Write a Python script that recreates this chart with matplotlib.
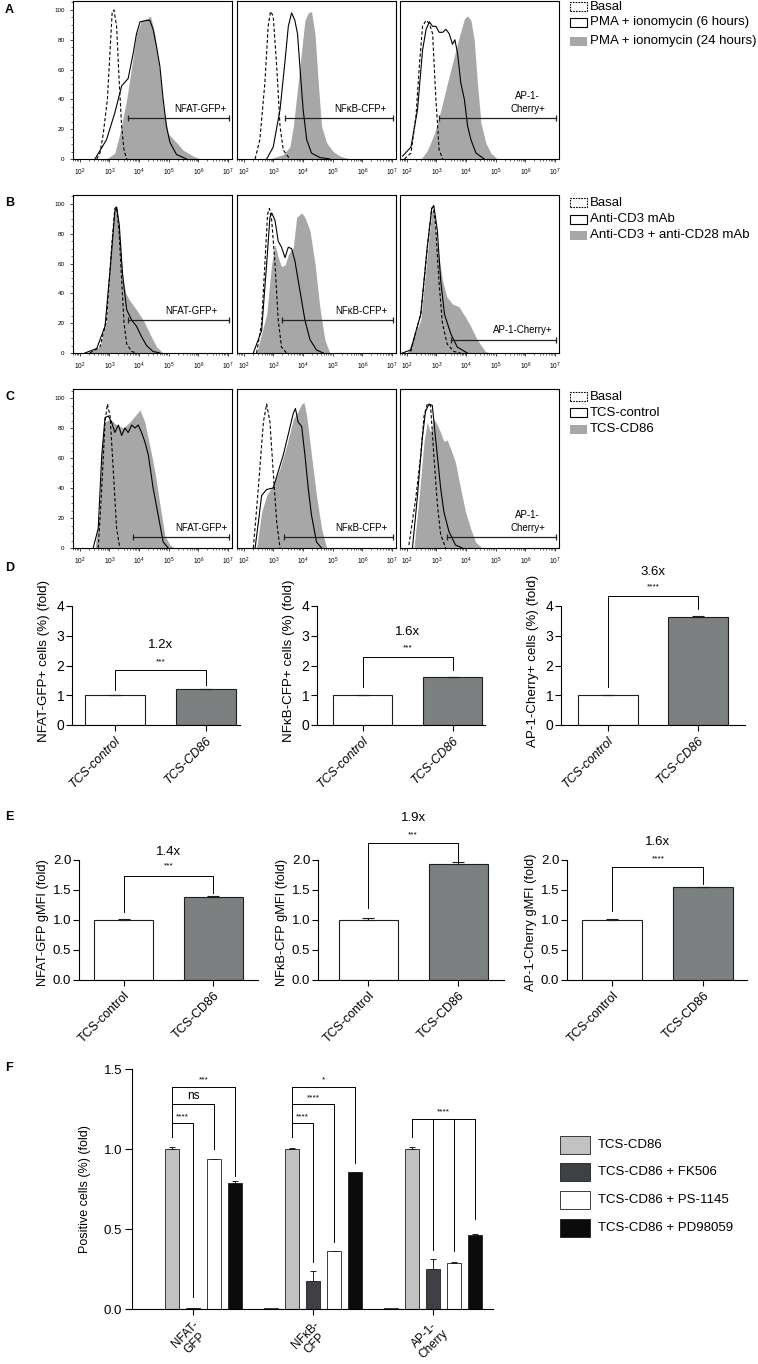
import numpy as np
import matplotlib
matplotlib.use("Agg")
import matplotlib.pyplot as plt
from matplotlib import font_manager
from matplotlib.patches import Rectangle
from matplotlib.ticker import LogLocator, NullFormatter, MultipleLocator, FormatStrFormatter

fonts = {f.name for f in font_manager.fontManager.ttflist}
SANS = "Liberation Sans" if "Liberation Sans" in fonts else "DejaVu Sans"
NARROW = "Liberation Sans Narrow" if "Liberation Sans Narrow" in fonts else SANS
plt.rcParams["font.family"] = [SANS, "DejaVu Sans"]

# ---------------- flow histograms: (log10 intensity, % of max) ----------------
A1_basal = [(2.57, 0), (2.68, 4), (2.79, 17), (2.93, 40), (3.02, 73), (3.09, 98), (3.15, 100), (3.24, 89), (3.33, 51), (3.41, 22), (3.49, 6), (3.58, 0)]
A1_open = [(2.51, 0), (2.90, 13), (3.18, 31), (3.41, 49), (3.63, 54), (3.80, 71), (3.91, 84), (4.03, 92), (4.25, 93), (4.36, 93), (4.47, 87), (4.59, 75), (4.70, 62), (4.81, 40), (4.92, 22), (5.04, 11), (5.26, 3), (5.60, 0)]
A1_grey = [(2.90, 0), (3.18, 4), (3.35, 17), (3.58, 40), (3.75, 62), (3.91, 84), (4.08, 93), (4.25, 94), (4.38, 96), (4.53, 84), (4.70, 57), (4.81, 35), (4.98, 17), (5.26, 11), (5.48, 6), (5.82, 2), (6.05, 0)]
A2_basal = [(2.38, 0), (2.54, 13), (2.71, 51), (2.82, 89), (2.90, 99), (2.99, 96), (3.11, 62), (3.22, 22), (3.33, 6), (3.55, 0)]
A2_open = [(2.77, 0), (2.99, 8), (3.22, 33), (3.39, 66), (3.50, 89), (3.61, 98), (3.72, 93), (3.81, 84), (3.89, 62), (4.00, 33), (4.12, 13), (4.28, 4), (4.56, 1), (4.90, 0)]
A2_grey = [(2.88, 0), (3.33, 3), (3.55, 8), (3.67, 22), (3.83, 51), (3.95, 73), (4.06, 93), (4.17, 98), (4.28, 99), (4.40, 84), (4.51, 51), (4.62, 22), (4.79, 11), (5.01, 5), (5.24, 2), (5.57, 0)]
A3_basal = [(1.92, 0), (2.14, 4), (2.31, 29), (2.42, 62), (2.53, 89), (2.65, 93), (2.76, 91), (2.87, 84), (2.98, 40), (3.09, 6), (3.21, 0)]
A3_open = [(1.86, 2), (2.14, 8), (2.36, 33), (2.53, 73), (2.65, 87), (2.76, 92), (2.87, 89), (2.98, 89), (3.09, 85), (3.21, 85), (3.32, 87), (3.43, 84), (3.54, 77), (3.62, 80), (3.71, 71), (3.82, 51), (3.94, 40), (4.05, 22), (4.16, 13), (4.33, 4), (4.61, 0)]
A3_grey = [(2.48, 0), (2.70, 6), (2.93, 17), (3.15, 33), (3.37, 51), (3.60, 69), (3.77, 82), (3.94, 94), (4.05, 96), (4.16, 93), (4.27, 80), (4.38, 51), (4.50, 24), (4.66, 11), (4.83, 4), (5.06, 0)]

B1_basal = [(2.34, 0), (2.68, 4), (2.90, 22), (3.07, 71), (3.18, 97), (3.24, 98), (3.32, 82), (3.41, 49), (3.49, 20), (3.58, 6), (3.75, 1), (3.91, 0)]
B1_open = [(2.17, 0), (2.57, 3), (2.85, 18), (3.04, 60), (3.18, 95), (3.24, 98), (3.33, 86), (3.44, 53), (3.58, 29), (3.75, 22), (3.91, 18), (4.08, 11), (4.25, 5), (4.47, 1), (4.70, 0)]
B1_grey = [(2.23, 0), (2.68, 4), (2.90, 22), (3.07, 71), (3.18, 97), (3.24, 98), (3.35, 75), (3.46, 49), (3.55, 40), (3.69, 35), (3.91, 29), (4.14, 22), (4.36, 13), (4.59, 4), (4.81, 0)]
B2_basal = [(2.43, 0), (2.60, 20), (2.71, 60), (2.80, 93), (2.86, 97), (2.94, 89), (3.05, 60), (3.16, 22), (3.27, 4), (3.44, 0)]
B2_open = [(2.32, 0), (2.60, 15), (2.77, 60), (2.88, 91), (2.94, 94), (3.05, 89), (3.16, 75), (3.27, 71), (3.39, 64), (3.50, 71), (3.61, 70), (3.72, 62), (3.89, 42), (4.06, 22), (4.23, 9), (4.45, 2), (4.68, 0)]
B2_grey = [(2.43, 0), (2.77, 26), (2.94, 60), (3.05, 73), (3.16, 64), (3.27, 58), (3.39, 59), (3.50, 66), (3.67, 71), (3.78, 91), (3.95, 94), (4.06, 91), (4.23, 82), (4.40, 60), (4.56, 31), (4.73, 9), (4.90, 0)]
B3_basal = [(2.13, 1), (2.47, 26), (2.69, 71), (2.84, 97), (2.89, 98), (2.97, 86), (3.08, 49), (3.20, 20), (3.36, 6), (3.59, 1), (3.81, 0)]
B3_open = [(1.85, 0), (2.13, 2), (2.47, 26), (2.69, 71), (2.84, 97), (2.91, 99), (3.03, 82), (3.14, 49), (3.27, 26), (3.48, 13), (3.70, 4), (4.04, 0)]
B3_grey = [(2.02, 0), (2.47, 22), (2.69, 66), (2.84, 95), (2.89, 96), (3.03, 71), (3.20, 49), (3.34, 38), (3.53, 33), (3.76, 31), (3.98, 24), (4.15, 18), (4.37, 9), (4.65, 1), (4.82, 0)]

C1_basal = [(2.62, 0), (2.74, 40), (2.85, 84), (2.93, 96), (3.02, 88), (3.13, 51), (3.24, 13), (3.35, 0)]
C1_open = [(2.45, 0), (2.62, 13), (2.74, 62), (2.85, 87), (2.96, 88), (3.07, 84), (3.18, 77), (3.30, 82), (3.41, 75), (3.52, 80), (3.63, 77), (3.75, 82), (3.86, 80), (3.97, 82), (4.08, 77), (4.19, 71), (4.31, 62), (4.47, 40), (4.64, 22), (4.81, 4), (4.98, 0)]
C1_grey = [(2.51, 0), (2.66, 22), (2.74, 66), (2.85, 84), (3.02, 86), (3.24, 82), (3.46, 80), (3.69, 84), (3.86, 88), (4.03, 92), (4.19, 84), (4.36, 68), (4.53, 51), (4.70, 29), (4.87, 8), (5.04, 2), (5.20, 0)]
C2_basal = [(2.32, 0), (2.49, 40), (2.66, 84), (2.77, 96), (2.88, 84), (2.99, 51), (3.11, 17), (3.22, 0)]
C2_open = [(2.38, 0), (2.49, 17), (2.60, 35), (2.77, 39), (2.99, 40), (3.16, 51), (3.33, 62), (3.44, 71), (3.55, 80), (3.67, 90), (3.74, 93), (3.83, 84), (3.95, 81), (4.06, 62), (4.17, 40), (4.28, 22), (4.45, 4), (4.62, 0)]
C2_grey = [(2.43, 0), (2.60, 24), (2.77, 35), (2.99, 42), (3.22, 53), (3.44, 68), (3.67, 86), (3.83, 91), (3.95, 96), (4.03, 97), (4.12, 88), (4.28, 62), (4.45, 35), (4.62, 13), (4.79, 0)]
C3_basal = [(2.07, 2), (2.30, 33), (2.47, 62), (2.58, 88), (2.69, 96), (2.80, 95), (2.91, 62), (3.03, 29), (3.14, 9), (3.31, 0)]
C3_open = [(2.19, 0), (2.35, 33), (2.52, 73), (2.63, 91), (2.75, 96), (2.86, 95), (2.97, 73), (3.14, 40), (3.25, 24), (3.42, 11), (3.64, 2), (3.87, 0)]
C3_grey = [(2.24, 0), (2.41, 33), (2.58, 71), (2.69, 84), (2.80, 77), (2.91, 86), (3.03, 82), (3.14, 77), (3.25, 71), (3.36, 72), (3.48, 66), (3.64, 57), (3.81, 40), (3.98, 24), (4.15, 13), (4.32, 4), (4.54, 0)]

# gates (log10 start, height) and their labels
A_gate_start = [3.62, 3.39, 3.08]
A_gate_y = [27.5, 27.5, 27.5]
B_gate_start = [3.62, 3.29, 3.49]
B_gate_y = [22, 22, 9]
C_gate_start = [3.79, 3.35, 3.35]
C_gate_y = [7.3, 7.3, 7.3]
gate_end = 7.03
A_gate_labels = ["NFAT-GFP+", "NFκB-CFP+", "AP-1-\nCherry+"]
B_gate_labels = ["NFAT-GFP+", "NFκB-CFP+", "AP-1-Cherry+"]
C_gate_labels = ["NFAT-GFP+", "NFκB-CFP+", "AP-1-\nCherry+"]
A_label_x = [6.95, 6.80, 6.08]
B_label_x = [6.65, 6.85, 6.92]
C_label_x = [6.98, 6.85, 6.08]
A_label_y = [30.5, 30.5, 30.5]
B_label_y = [25, 25, 12]
C_label_y = [10, 10, 10]

A_legend = ["Basal", "PMA + ionomycin (6 hours)", "PMA + ionomycin (24 hours)"]
B_legend = ["Basal", "Anti-CD3 mAb", "Anti-CD3 + anti-CD28 mAb"]
C_legend = ["Basal", "TCS-control", "TCS-CD86"]

# ---------------- bar charts D / E ----------------
groups = ["TCS-control", "TCS-CD86"]
D_labels = ["NFAT-GFP+ cells (%) (fold)", "NFκB-CFP+ cells (%) (fold)", "AP-1-Cherry+ cells (%) (fold)"]
D_values = [[1.0, 1.2], [1.0, 1.62], [1.0, 3.63]]
D_errors = [[0.005, 0.01], [0.02, 0.01], [0.005, 0.03]]
D_fold = ["1.2x", "1.6x", "3.6x"]
D_stars = ["***", "***", "****"]
D_bracket = [(1.85, 1.17, 1.34), (2.28, 1.28, 1.85), (4.33, 1.28, 3.90)]
D_text_y = [(2.12, 2.69), (2.59, 3.13), (4.64, 5.14)]

E_labels = ["NFAT-GFP gMFI (fold)", "NFκB-CFP gMFI (fold)", "AP-1-Cherry gMFI (fold)"]
E_values = [[1.0, 1.39], [1.0, 1.94], [1.0, 1.55]]
E_errors = [[0.02, 0.01], [0.03, 0.02], [0.01, 0.005]]
E_fold = ["1.4x", "1.9x", "1.6x"]
E_stars = ["***", "***", "****"]
E_bracket = [(1.73, 1.13, 1.45), (2.28, 1.20, 1.98), (1.88, 1.15, 1.60)]
E_text_y = [(1.90, 2.13), (2.42, 2.70), (2.02, 2.30)]

# ---------------- panel F ----------------
F_groups = ["NFAT-\nGFP", "NFκB-\nCFP", "AP-1-\nCherry"]
F_series = ["Basal", "TCS-CD86", "TCS-CD86 + FK506", "TCS-CD86 + PS-1145", "TCS-CD86 + PD98059"]
F_basal = [0.003, 0.006, 0.004]
F_cd86 = [1.0, 1.0, 1.0]
F_fk506 = [0.005, 0.175, 0.25]
F_ps1145 = [0.935, 0.36, 0.29]
F_pd98059 = [0.785, 0.855, 0.465]
F_cd86_err = [0.01, 0.005, 0.01]
F_fk506_err = [0.003, 0.06, 0.06]
F_ps1145_err = [0.003, 0.003, 0.004]
F_pd98059_err = [0.012, 0.004, 0.003]
# (group, bar a, bar b, bracket top, end of leg b, label)
F_pairs = [(0, 1, 4, 1.39, 0.83, "***"), (0, 1, 3, 1.28, 1.00, "ns"), (0, 1, 2, 1.16, 0.075, "****"),
           (1, 1, 4, 1.39, 0.91, "*"), (1, 1, 3, 1.28, 0.42, "****"), (1, 1, 2, 1.16, 0.295, "****")]
F_leg_a = 1.075
F_multi_top = 1.19
F_multi_ends = [1.075, 0.37, 0.36, 0.56]

# ---------------- styling ----------------
W, H = 758, 1364
HIST_GREY = "#a7a7a7"
BAR_GREY = "#7d8080"
F_COLORS = ["white", "#c2c2c2", "#3e4045", "white", "#0b0b0b"]
EDGE = "#1e1e1e"

fig = plt.figure(figsize=(W / 100, H / 100), dpi=100)


def px_axes(left, top, right, bottom):
    return fig.add_axes([left / W, 1 - bottom / H, (right - left) / W, (bottom - top) / H])


def curve(points):
    arr = np.array(points, dtype=float)
    return 10 ** arr[:, 0], arr[:, 1]


def draw_hist(ax, basal, open_, grey, g0, gy, lab, lx, ly, first):
    x, y = curve(grey)
    ax.fill_between(x, y, color=HIST_GREY, lw=0, zorder=1)
    x, y = curve(open_)
    ax.plot(x, y, color="k", lw=0.8, zorder=3)
    x, y = curve(basal)
    ax.plot(x, y, color="k", lw=0.8, ls=(0, (3, 2)), zorder=3)
    ax.plot([10 ** g0, 10 ** gate_end], [gy, gy], color="#222222", lw=0.9,
            marker="|", ms=4.5, mew=0.9, zorder=4)
    ha = "center" if "\n" in lab else "right"
    ax.text(10 ** lx, ly, lab, fontsize=7, ha=ha, va="bottom", linespacing=1.35, zorder=5)
    ax.set_xscale("log")
    ax.set_xlim(10 ** 1.77, 10 ** 7.13)
    ax.set_ylim(0, 106)
    ax.xaxis.set_major_locator(LogLocator(base=10, numticks=12))
    ax.xaxis.set_minor_locator(LogLocator(base=10, subs=np.arange(2, 10), numticks=12))
    ax.xaxis.set_minor_formatter(NullFormatter())
    ax.tick_params(axis="x", which="major", direction="out", length=2.5, width=0.5, labelsize=4.8, pad=3)
    ax.tick_params(axis="x", which="minor", direction="out", length=1.3, width=0.4)
    if first:
        ax.yaxis.set_major_locator(MultipleLocator(20))
        ax.yaxis.set_minor_locator(MultipleLocator(5))
        ax.tick_params(axis="y", which="major", direction="out", length=2.5, width=0.5, labelsize=4.5, pad=3.5)
        ax.tick_params(axis="y", which="minor", direction="out", length=1.3, width=0.4)
    else:
        ax.tick_params(axis="y", which="both", left=False, labelleft=False)
    for s in ax.spines.values():
        s.set_linewidth(0.8)


def legend_block(x, ys, labels, kinds, w, h, fs, gap=3):
    for y, lab, kind in zip(ys, labels, kinds):
        if kind == "basal":
            kw = dict(facecolor="white", edgecolor="k", linestyle=(0, (1.5, 1)), linewidth=0.8)
        elif kind == "open":
            kw = dict(facecolor="white", edgecolor="k", linewidth=0.8)
        elif kind == "grey":
            kw = dict(facecolor=HIST_GREY, edgecolor="none")
        else:
            kw = dict(facecolor=kind, edgecolor=EDGE, linewidth=0.6)
        fig.add_artist(Rectangle((x / W, 1 - (y + h / 2) / H), w / W, h / H,
                                 transform=fig.transFigure, **kw))
        fig.text((x + w + gap) / W, 1 - y / H, lab, fontsize=fs, va="center", ha="left")


cols = [(73, 232), (237, 396), (400, 559)]
rows = [
    ((1, 159), [A1_basal, A2_basal, A3_basal], [A1_open, A2_open, A3_open], [A1_grey, A2_grey, A3_grey],
     A_gate_start, A_gate_y, A_gate_labels, A_label_x, A_label_y, A_legend, [6.5, 22.5, 41]),
    ((195, 353), [B1_basal, B2_basal, B3_basal], [B1_open, B2_open, B3_open], [B1_grey, B2_grey, B3_grey],
     B_gate_start, B_gate_y, B_gate_labels, B_label_x, B_label_y, B_legend, [202.5, 219, 235]),
    ((389, 548), [C1_basal, C2_basal, C3_basal], [C1_open, C2_open, C3_open], [C1_grey, C2_grey, C3_grey],
     C_gate_start, C_gate_y, C_gate_labels, C_label_x, C_label_y, C_legend, [396.5, 412.5, 429]),
]
for (top, bottom), bas, opn, gry, gs, gyy, glab, lxs, lys, leg, legy in rows:
    for i, (l, r) in enumerate(cols):
        ax = px_axes(l, top, r, bottom)
        draw_hist(ax, bas[i], opn[i], gry[i], gs[i], gyy[i], glab[i], lxs[i], lys[i], i == 0)
    legend_block(570, legy, leg, ["basal", "open", "grey"], 17, 9, 9.5)


def draw_bars(ax, vals, errs, ymax, step, fmt, ylabel, xlim, width_px, lab_off, lab_frac,
              bracket, text_y, fold, stars, italic, tick_font, tick_fs, ylab_fs):
    x = np.arange(len(vals))
    ax.bar(x, vals, width=0.66, color=["white", BAR_GREY], edgecolor=EDGE, linewidth=0.8, zorder=2)
    ax.errorbar(x, vals, yerr=[np.zeros(len(vals)), errs], fmt="none", ecolor=EDGE,
                elinewidth=0.8, capsize=4, capthick=0.8, zorder=3)
    ax.set_xlim(*xlim)
    ax.set_ylim(0, ymax)
    ax.set_yticks(np.arange(0, ymax + 1e-9, step))
    ax.yaxis.set_major_formatter(FormatStrFormatter(fmt))
    for t in ax.get_yticklabels():
        t.set_family(tick_font)
    ax.tick_params(axis="y", direction="out", length=4, width=0.8, labelsize=tick_fs, pad=1.5)
    ax.set_xticks(x)
    ax.set_xticklabels(groups, rotation=45, ha="right", rotation_mode="anchor", fontsize=9,
                       style="italic" if italic else "normal")
    ax.tick_params(axis="x", direction="out", length=4, width=0.8, pad=3)
    for s in ["top", "right"]:
        ax.spines[s].set_visible(False)
    ax.spines["left"].set_linewidth(0.8)
    ax.spines["bottom"].set_linewidth(0.8)
    ax.set_ylabel(ylabel, fontsize=ylab_fs, va="center")
    ax.yaxis.set_label_coords(-lab_off / width_px, lab_frac)
    btop, lend, rend = bracket
    ax.plot([0, 0, 1, 1], [lend, btop, btop, rend], color="k", lw=0.7, clip_on=False, zorder=4)
    ax.text(0.5, text_y[0], stars, ha="center", va="center", fontsize=6, family=NARROW)
    ax.text(0.5, text_y[1], fold, ha="center", va="center", fontsize=9.5, family=NARROW)


D_pos = [(72, 240, (-0.47, 1.37)), (317, 485, (-0.51, 1.36)), (561, 745, (-0.52, 1.52))]
for i, (l, r, xl) in enumerate(D_pos):
    ax = px_axes(l, 606, r, 725)
    draw_bars(ax, D_values[i], D_errors[i], 4, 1, "%d", D_labels[i], xl, r - l, 28, 0.54,
              D_bracket[i], D_text_y[i], D_fold[i], D_stars[i], True, NARROW, 10, 9.6)

E_pos = [(79, 258, (-0.5, 1.5)), (318, 504, (-0.56, 1.51)), (567, 747, (-0.5, 1.48))]
for i, (l, r, xl) in enumerate(E_pos):
    ax = px_axes(l, 860, r, 980)
    draw_bars(ax, E_values[i], E_errors[i], 2.0, 0.5, "%.1f", E_labels[i], xl, r - l, 36, 0.48,
              E_bracket[i], E_text_y[i], E_fold[i], E_stars[i], False, SANS, 9.5, 9.3)

# ---------------- panel F ----------------
axf = px_axes(132, 1069, 493, 1309)
gx = np.arange(len(F_groups))
step, bw = 0.175, 0.12
f_vals = [F_basal, F_cd86, F_fk506, F_ps1145, F_pd98059]
f_errs = [None, F_cd86_err, F_fk506_err, F_ps1145_err, F_pd98059_err]
for k, (vals, errs) in enumerate(zip(f_vals, f_errs)):
    xs = gx + (k - 2) * step
    axf.bar(xs, vals, width=bw, color=F_COLORS[k], edgecolor=EDGE, linewidth=0.6, zorder=2)
    if errs is not None:
        axf.errorbar(xs, vals, yerr=[np.zeros(len(vals)), errs], fmt="none", ecolor=EDGE,
                     elinewidth=0.7, capsize=2.5, capthick=0.7, zorder=3)
for g, a, b, top, bend, lab in F_pairs:
    xa, xb = g + (a - 2) * step, g + (b - 2) * step
    axf.plot([xa, xa, xb, xb], [F_leg_a, top, top, bend], color="k", lw=0.7, zorder=4)
    if lab == "ns":
        axf.text((xa + xb) / 2, top + 0.05, lab, ha="center", va="center", fontsize=8.5)
    else:
        axf.text((xa + xb) / 2, top + 0.04, lab, ha="center", va="center", fontsize=6, family=NARROW)
legx = [2 + (k - 2) * step for k in range(1, 5)]
axf.plot([legx[0], legx[-1]], [F_multi_top, F_multi_top], color="k", lw=0.7, zorder=4)
for xv, e in zip(legx, F_multi_ends):
    axf.plot([xv, xv], [F_multi_top, e], color="k", lw=0.7, zorder=4)
axf.text((legx[0] + legx[-1]) / 2, F_multi_top + 0.04, "****", ha="center", va="center", fontsize=6, family=NARROW)

axf.set_xlim(-0.508, 2.5)
axf.set_ylim(0, 1.5)
axf.set_yticks([0, 0.5, 1.0, 1.5])
axf.yaxis.set_major_formatter(FormatStrFormatter("%.1f"))
axf.tick_params(axis="y", direction="out", length=5, width=0.8, labelsize=9.5, pad=2)
axf.set_xticks(gx)
axf.set_xticklabels(F_groups, rotation=45, ha="right", rotation_mode="anchor", fontsize=8.5,
                    multialignment="center", linespacing=1.1)
axf.tick_params(axis="x", direction="out", length=4, width=0.8, pad=3)
for s in ["top", "right"]:
    axf.spines[s].set_visible(False)
axf.spines["left"].set_linewidth(0.8)
axf.spines["bottom"].set_linewidth(0.8)
axf.set_ylabel("Positive cells (%) (fold)", fontsize=9, va="center")
axf.yaxis.set_label_coords(-47 / 361, 0.5)

legend_block(560, [1145, 1172, 1200, 1228], F_series[1:], F_COLORS[1:], 30, 18, 9.5, gap=8)

# panel letters
for letter, y in zip("ABCDEF", [10, 203, 397, 568, 817, 1068]):
    fig.text(5 / W, 1 - y / H, letter, fontsize=9, fontweight="bold", ha="left", va="center")

fig.savefig("out.png", dpi=100)
